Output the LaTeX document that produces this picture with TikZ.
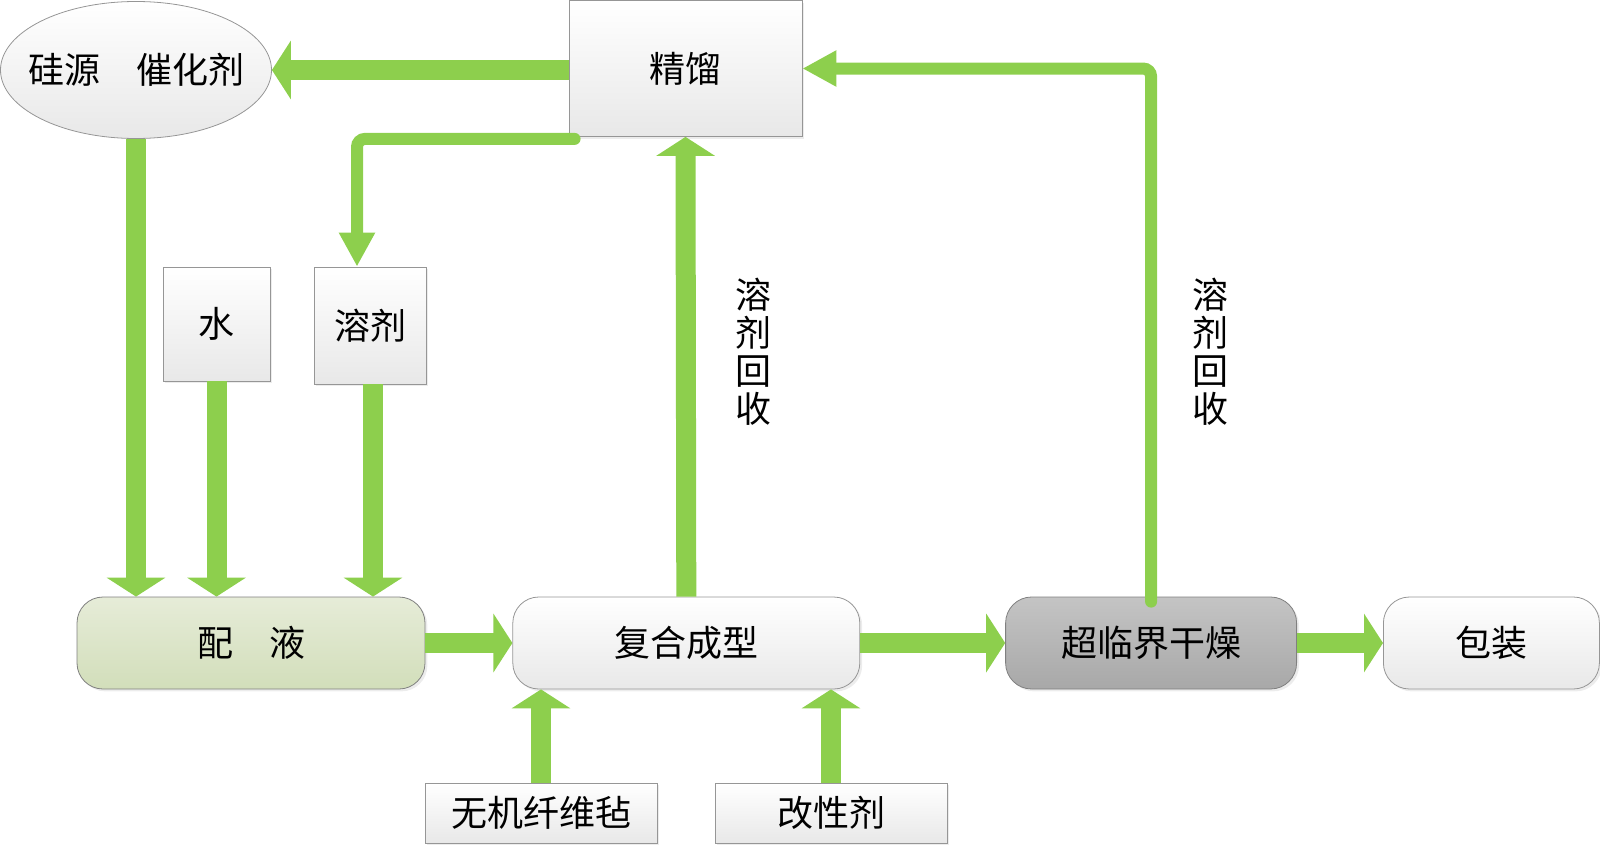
\documentclass[tikz,border=0pt]{standalone}
\usepackage{fontspec}
\setmainfont{Noto Sans CJK SC}
\usepackage{xcolor}
\definecolor{FlowGreen}{RGB}{141,207,77}
\definecolor{EdgeGray}{RGB}{150,150,150}
\definecolor{FillLight}{RGB}{232,232,232}
\definecolor{FillOliveTop}{RGB}{230,236,216}
\definecolor{FillOliveBot}{RGB}{210,222,186}
\definecolor{FillDarkTop}{RGB}{196,196,196}
\definecolor{FillDarkBot}{RGB}{168,168,168}
\usepackage{tikz}
\usetikzlibrary{
  shapes, shapes.geometric,
  arrows.meta,
  positioning, shadows
}
\tikzset{
  % Plain input box
  ibox/.style={
    rectangle, draw=EdgeGray, thin,
    top color=white, bottom color=FillLight,
    drop shadow={shadow xshift=1.2pt, shadow yshift=-1.2pt, opacity=0.15},
    font=\fontsize{18}{20}\selectfont, inner sep=2pt
  },
  % Rounded process box
  pbox/.style={
    rectangle, rounded corners=13pt,
    draw=EdgeGray, thin,
    top color=white, bottom color=FillLight,
    drop shadow={shadow xshift=1.2pt, shadow yshift=-1.2pt, opacity=0.15},
    minimum width=173.5pt, minimum height=46pt,
    font=\fontsize{18}{20}\selectfont
  },
  pbox olive/.style={pbox, top color=FillOliveTop, bottom color=FillOliveBot, draw=gray},
  pbox dark/.style={pbox, top color=FillDarkTop, bottom color=FillDarkBot, draw=gray},
  % Source ellipse
  src/.style={
    ellipse, draw=EdgeGray, thin,
    top color=white, bottom color=FillLight,
    minimum width=135.5pt, minimum height=68.5pt,
    font=\fontsize{18}{20}\selectfont, inner ysep=0pt, inner xsep=-8pt
  },
  % Arrows
  fatarr/.style={-{Triangle[width=29pt,length=9.5pt]}, line width=10pt, FlowGreen},
  thinarr/.style={-{Triangle[width=17pt,length=17pt]}, line width=6pt, FlowGreen,
    line cap=round, rounded corners=4pt},
  % Vertical label
  vlabel/.style={font=\fontsize{18}{19}\selectfont, align=center, inner sep=0pt},
}

\begin{document}
\begin{tikzpicture}[x=0.5pt, y=-0.5pt]
  \useasboundingbox (0,0) rectangle (1600,846);

  %% Top row
  \node[src] (gy) at (136,70) {硅源\hspace{1em}催化剂};
  \node[ibox, minimum width=116.5pt, minimum height=68pt] (jl) at (685.5,68.5) {精馏};

  %% Raw material boxes
  \node[ibox, minimum width=53.5pt, minimum height=57pt] (shui) at (216.5,324) {水};
  \node[ibox, minimum width=56pt, minimum height=58.5pt] (rj) at (370,325.5) {溶剂};

  %% Process row
  \node[pbox olive, minimum width=174pt] (pz) at (251,643) {配\hspace{1em}液};
  \node[pbox, right=43.5pt of pz] (fh) {复合成型};
  \node[pbox dark, minimum width=145.5pt, right=72.5pt of fh] (cl) {超临界干燥};
  \node[pbox, minimum width=108pt, right=43pt of cl] (bz) {包装};

  %% Additives
  \node[ibox, minimum width=116pt, minimum height=30pt] (xwz) at (541,813) {无机纤维毡};
  \node[ibox, minimum width=116pt, minimum height=30pt] (gxj) at (831,813) {改性剂};

  %% Recovery labels
  \node[vlabel] (lab1) at (753,352) {溶\\剂\\回\\收};
  \node[vlabel] (lab2) at (1210,352) {溶\\剂\\回\\收};

  %% Feeds into mixing
  \draw[fatarr] (gy.south) -- (gy.south |- pz.north);
  \draw[fatarr] (shui.south) -- (shui.south |- pz.north);
  \draw[fatarr] ([xshift=1.5pt]rj.south) -- ([xshift=1.5pt]rj.south |- pz.north);

  %% Main line
  \draw[fatarr] (pz.east) -- (fh.west);
  \draw[fatarr] (fh.east) -- (cl.west);
  \draw[fatarr] (cl.east) -- (bz.west);
  \draw[fatarr] (xwz.north) -- (xwz.north |- fh.south);
  \draw[fatarr] (gxj.north) -- (gxj.north |- fh.south);

  %% Solvent recovery loops
  \draw[fatarr] (fh.north) -- (jl.south);
  \draw[fatarr] (jl.west |- gy.east) -- (gy.east);
  \draw[thinarr] ([shift={(6,2)}]jl.south west) -| ([shift={(-13,0)}]rj.north);
  \draw[thinarr] ([shift={(0,5)}]cl.north) |- (jl.east);

\end{tikzpicture}
\end{document}
